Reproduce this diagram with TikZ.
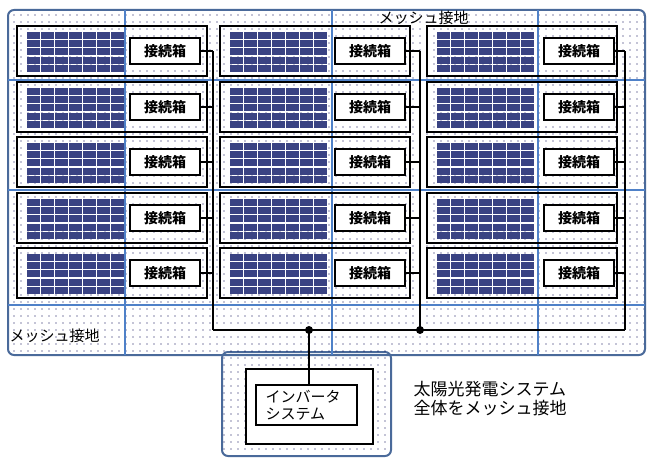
\documentclass[tikz,border=0pt]{standalone}
\usepackage{fontspec}
\setmainfont{Noto Sans CJK JP}
\usetikzlibrary{patterns.meta}
\definecolor{mesh}{HTML}{4F81C8}
\definecolor{frame}{HTML}{4A6A9A}
\definecolor{cell}{HTML}{3A4383}

\begin{document}
\begin{tikzpicture}[x=1pt,y=-1pt,
  ground/.style={draw=frame, line width=2pt, rounded corners=6pt,
    pattern={Dots[distance=7pt,radius=0.6pt]}, pattern color=black!70!blue},
  array/.style={draw, line width=2.4pt},
  jbox/.style={draw, line width=2pt, fill=white, minimum width=70pt, minimum height=26pt, inner sep=0pt, font=\fontsize{14}{16}\selectfont\bfseries},
  wire/.style={line width=1.6pt},
  mesh/.style={draw=mesh, line width=1.3pt}]
  \useasboundingbox (0,0) rectangle (655,470);
  \draw[ground] (222,352) rectangle (391,456);
  \draw[ground] (8,10) rectangle (645,355);
  % mesh grid
  \foreach \x in {125,332,538} \draw[mesh] (\x,10) -- (\x,355);
  \foreach \y in {80,190,305} \draw[mesh] (8,\y) -- (645,\y);
  % arrays
  \foreach \c/\ax/\px/\wx in {1/17/27/213, 2/220/230/420, 3/427/437/625} {
    \foreach \r/\ry in {1/51, 2/107, 3/162, 4/218, 5/273} {
      \draw[array] (\ax,\ry-25) rectangle ++(190,50);
      \foreach \i in {0,...,6}
        \foreach \j in {0,...,4}
          \fill[cell] (\px+\i*14,\ry-19+\j*8.2) rectangle ++(12.6,7);
      \node[jbox] (j\c\r) at (\ax+148+\c*2-2,\ry) {接続箱};
      \draw[wire] (j\c\r.east) -- (\wx,\ry);
    }
    \coordinate (b\c) at (\wx,330);
    \draw[wire] (\wx,51) -- (b\c);
  }
  \draw[wire] (b1) -- (b3);
  \coordinate (d1) at (309,330);
  \coordinate (d2) at (420,330);
  \fill (d1) circle (4pt) (d2) circle (4pt);
  % inverter
  \draw[line width=2.4pt, fill=white] (246,369) rectangle (373,444);
  \node[draw, line width=2pt, fill=white, minimum width=101pt, minimum height=40pt, inner sep=0pt,
    align=left, text width=82pt, font=\fontsize{15}{17}\selectfont] (inv) at (306.5,405) {インバータ\\システム};
  \draw[wire] (d1) -- (d1 |- inv.north);
  % labels
  \node[anchor=west, font=\fontsize{15}{17}\selectfont] (top) at (375,18) {メッシュ接地};
  \node[anchor=west, font=\fontsize{15}{17}\selectfont] (left) at (6,336) {メッシュ接地};
  \node[anchor=west, align=left, font=\fontsize{17}{19}\selectfont] (note) at (410,399) {太陽光発電システム\\全体をメッシュ接地};
\end{tikzpicture}
\end{document}
